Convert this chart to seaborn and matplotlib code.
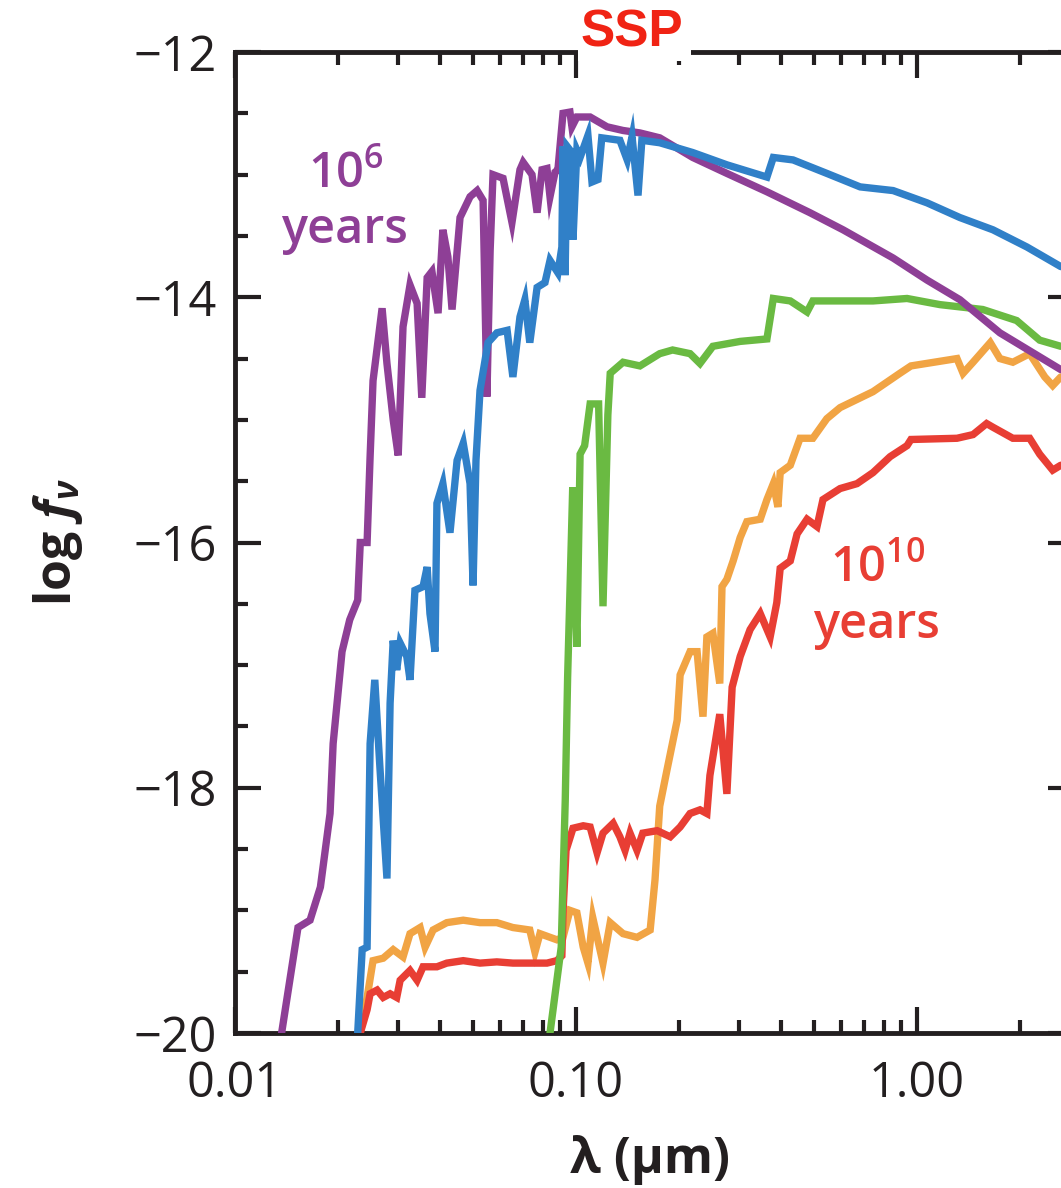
import numpy as np
import pandas as pd
import matplotlib
matplotlib.use("Agg")
import matplotlib.pyplot as plt
import seaborn as sns
from matplotlib.ticker import LogLocator, MultipleLocator, NullFormatter, FixedLocator
from matplotlib.patches import Rectangle

# ---------------- data (wavelength in micron, log f_nu) ----------------
sed_1e6 = np.array([
    [0.0137, -20.0], [0.0153, -19.14], [0.0166, -19.08], [0.0178, -18.81], [0.0190, -18.21],
    [0.0194, -17.64], [0.0206, -16.89], [0.0217, -16.63], [0.0229, -16.47], [0.0233, -16.00],
    [0.0244, -16.00], [0.0249, -15.30], [0.0254, -14.68], [0.0270, -14.09], [0.0279, -14.54],
    [0.0291, -15.00], [0.0301, -15.29], [0.0311, -14.24], [0.0326, -13.90], [0.0342, -14.05],
    [0.0353, -14.82], [0.0366, -13.84], [0.0378, -13.79], [0.0394, -14.13], [0.0407, -13.45],
    [0.0421, -13.67], [0.0433, -14.10], [0.0457, -13.35], [0.0489, -13.18], [0.0513, -13.13],
    [0.0534, -13.21], [0.0548, -14.81], [0.0560, -13.62], [0.0571, -13.00], [0.0611, -13.03],
    [0.0649, -13.39], [0.0685, -12.96], [0.0700, -12.90], [0.0743, -13.00], [0.0769, -13.31],
    [0.0795, -12.96], [0.0822, -12.95], [0.0839, -13.18], [0.0868, -12.98], [0.0885, -12.96],
    [0.0916, -12.50], [0.0960, -12.49], [0.0973, -12.61], [0.1006, -12.53], [0.110, -12.53],
    [0.1233, -12.61], [0.1374, -12.64], [0.154, -12.66], [0.176, -12.70], [0.220, -12.86],
    [0.277, -12.99], [0.363, -13.14], [0.485, -13.31], [0.607, -13.45], [0.851, -13.68],
    [1.07, -13.86], [1.336, -14.02], [1.75, -14.29], [2.64, -14.59],
])

sed_blue = np.array([
    [0.0229, -20.0], [0.0236, -19.32], [0.0244, -19.30], [0.0249, -17.64], [0.0257, -17.12],
    [0.0266, -17.83], [0.0279, -18.74], [0.0285, -17.31], [0.0291, -16.80], [0.0298, -17.04],
    [0.0305, -16.82], [0.0319, -16.93], [0.0326, -17.12], [0.0337, -16.39], [0.0356, -16.36],
    [0.0366, -16.20], [0.0373, -16.58], [0.0386, -16.89], [0.0391, -15.68], [0.0407, -15.52],
    [0.0427, -15.92], [0.0448, -15.33], [0.0467, -15.19], [0.0489, -15.52], [0.0499, -16.35],
    [0.0509, -15.33], [0.0523, -14.76], [0.0552, -14.37], [0.0586, -14.29], [0.0628, -14.27],
    [0.0653, -14.65], [0.0685, -14.16], [0.0708, -14.02], [0.0732, -14.37], [0.0769, -13.92],
    [0.0811, -13.88], [0.0839, -13.70], [0.0885, -13.80], [0.0909, -13.59], [0.0916, -12.77],
    [0.0929, -13.82], [0.0942, -12.77], [0.0960, -12.80], [0.0980, -13.53], [0.1006, -12.80],
    [0.1028, -12.86], [0.1084, -12.68], [0.1114, -13.06], [0.1160, -13.04], [0.1190, -12.70],
    [0.1345, -12.72], [0.1413, -12.88], [0.1460, -12.69], [0.1520, -13.17], [0.1560, -12.72],
    [0.176, -12.74], [0.220, -12.82], [0.277, -12.92], [0.363, -13.02], [0.379, -12.86],
    [0.433, -12.88], [0.544, -12.99], [0.681, -13.10], [0.851, -13.13], [1.07, -13.23],
    [1.336, -13.35], [1.67, -13.45], [2.10, -13.59], [2.64, -13.75],
])

sed_green = np.array([
    [0.0839, -20.0], [0.0905, -19.30], [0.0930, -18.10], [0.0945, -17.10], [0.0960, -16.40],
    [0.0978, -15.55], [0.1006, -16.85], [0.1028, -15.28], [0.1060, -15.21], [0.1100, -14.87],
    [0.1165, -14.87], [0.1200, -16.52], [0.1240, -14.96], [0.1260, -14.62], [0.1374, -14.53],
    [0.154, -14.56], [0.176, -14.46], [0.192, -14.43], [0.216, -14.46], [0.231, -14.54],
    [0.252, -14.40], [0.303, -14.36], [0.363, -14.34], [0.379, -14.01], [0.425, -14.03],
    [0.476, -14.12], [0.495, -14.03], [0.743, -14.03], [0.935, -14.01], [1.167, -14.06],
    [1.56, -14.10], [1.96, -14.19], [2.29, -14.35], [2.64, -14.40],
])

sed_orange = np.array([
    [0.0233, -20.0], [0.0244, -19.71], [0.0254, -19.41], [0.0272, -19.39], [0.0291, -19.32],
    [0.0311, -19.38], [0.0326, -19.19], [0.0349, -19.14], [0.0361, -19.30], [0.0381, -19.16],
    [0.0418, -19.10], [0.0467, -19.08], [0.0523, -19.10], [0.0586, -19.10], [0.0653, -19.14],
    [0.0732, -19.16], [0.0758, -19.34], [0.0784, -19.19], [0.0879, -19.24], [0.0916, -19.22],
    [0.0960, -19.00], [0.1006, -19.02], [0.1050, -19.30], [0.1084, -19.43], [0.1120, -19.06],
    [0.1200, -19.43], [0.1260, -19.10], [0.1374, -19.19], [0.151, -19.22], [0.165, -19.16],
    [0.1705, -18.75], [0.176, -18.15], [0.185, -17.85], [0.198, -17.45], [0.202, -17.08],
    [0.216, -16.89], [0.2265, -16.89], [0.2357, -17.42], [0.242, -16.77], [0.252, -16.74],
    [0.264, -17.15], [0.268, -16.36], [0.277, -16.30], [0.289, -16.15], [0.303, -15.96],
    [0.317, -15.83], [0.347, -15.81], [0.363, -15.65], [0.379, -15.52], [0.391, -15.71],
    [0.397, -15.43], [0.425, -15.37], [0.454, -15.15], [0.495, -15.15], [0.544, -14.99],
    [0.595, -14.90], [0.743, -14.77], [0.891, -14.62], [0.960, -14.56], [1.31, -14.50],
    [1.365, -14.62], [1.46, -14.53], [1.64, -14.37], [1.75, -14.50], [1.91, -14.53],
    [2.14, -14.46], [2.37, -14.65], [2.50, -14.72], [2.64, -14.65],
])

sed_1e10 = np.array([
    [0.0233, -20.0], [0.0244, -19.81], [0.0249, -19.68], [0.0261, -19.65], [0.0272, -19.71],
    [0.0285, -19.68], [0.0298, -19.71], [0.0305, -19.57], [0.0326, -19.49], [0.0342, -19.57],
    [0.0356, -19.46], [0.0391, -19.46], [0.0418, -19.43], [0.0467, -19.41], [0.0523, -19.43],
    [0.0586, -19.42], [0.0653, -19.43], [0.0732, -19.43], [0.0822, -19.43], [0.0879, -19.41],
    [0.0909, -19.37], [0.0916, -19.02], [0.0935, -18.51], [0.0980, -18.33], [0.1050, -18.31],
    [0.1100, -18.32], [0.1153, -18.53], [0.1200, -18.37], [0.1285, -18.29], [0.1345, -18.40],
    [0.1393, -18.51], [0.1440, -18.37], [0.1510, -18.51], [0.1570, -18.37], [0.173, -18.35],
    [0.189, -18.40], [0.202, -18.32], [0.216, -18.21], [0.231, -18.18], [0.242, -18.21],
    [0.247, -17.90], [0.264, -17.40], [0.277, -18.05], [0.287, -17.18], [0.303, -16.93],
    [0.324, -16.71], [0.347, -16.58], [0.371, -16.77], [0.388, -16.49], [0.397, -16.21],
    [0.425, -16.15], [0.445, -15.93], [0.476, -15.81], [0.509, -15.87], [0.530, -15.65],
    [0.595, -15.56], [0.667, -15.52], [0.743, -15.43], [0.834, -15.30], [0.935, -15.21],
    [0.960, -15.16], [1.31, -15.15], [1.46, -15.12], [1.60, -15.03], [1.67, -15.06],
    [1.91, -15.15], [2.14, -15.15], [2.29, -15.28], [2.50, -15.41], [2.64, -15.37],
])

x_major = [0.01, 0.1, 1.0]
x_major_labels = ["0.01", "0.10", "1.00"]
y_major = [-20, -18, -16, -14, -12]
y_major_labels = ["\u221220", "\u221218", "\u221216", "\u221214", "\u221212"]

# ---------------- style ----------------
sns.set_style("ticks")
plt.rcParams["font.family"] = ["Open Sans", "DejaVu Sans"]
plt.rcParams["mathtext.fontset"] = "custom"
plt.rcParams["mathtext.rm"] = "Open Sans:semibold"
plt.rcParams["mathtext.it"] = "Open Sans:italic:bold"
plt.rcParams["mathtext.bf"] = "Open Sans:bold"

INK = "#231f20"
C_PURPLE = "#8E3F96"
C_BLUE = "#3080C8"
C_GREEN = "#6ABA42"
C_ORANGE = "#F1A444"
C_RED = "#E83E34"

W, H = 1061, 1188
L, R, T, B = 235, 1074, 52, 1033
fig = plt.figure(figsize=(W / 100, H / 100), dpi=100)
ax = fig.add_axes([L / W, 1 - B / H, (R - L) / W, (B - T) / H])

series = [
    (sed_orange, C_ORANGE, 2),
    (sed_1e10, C_RED, 3),
    (sed_green, C_GREEN, 4),
    (sed_1e6, C_PURPLE, 5),
    (sed_blue, C_BLUE, 6),
]
for arr, col, z in series:
    df = pd.DataFrame({"lam": arr[:, 0], "logf": arr[:, 1]})
    sns.lineplot(data=df, x="lam", y="logf", ax=ax, color=col, linewidth=5.3,
                 sort=False, estimator=None, zorder=z, solid_joinstyle="miter")

ax.set_xscale("log")
xmax = 10 ** (-2 + (R - L) / 341.0)
ax.set_xlim(0.01, xmax)
ax.set_ylim(-20, -12)

ax.xaxis.set_major_locator(FixedLocator(x_major))
ax.set_xticklabels(x_major_labels)
ax.xaxis.set_minor_locator(LogLocator(base=10, subs=np.arange(2, 10)))
ax.xaxis.set_minor_formatter(NullFormatter())
ax.yaxis.set_major_locator(FixedLocator(y_major))
ax.set_yticklabels(y_major_labels)
ax.yaxis.set_minor_locator(MultipleLocator(0.5))

ax.tick_params(which="both", direction="in", top=True, right=True, color=INK,
               width=3.0, labelcolor=INK, labelsize=35)
ax.tick_params(which="major", length=19)
ax.tick_params(which="minor", length=9.5)
ax.tick_params(axis="x", which="major", pad=19)
ax.tick_params(axis="y", which="major", pad=13)
for sp in ax.spines.values():
    sp.set_linewidth(3.5)
    sp.set_color(INK)

ax.set_xlabel("\u03bb (\u03bcm)", fontsize=36, fontweight="bold", color=INK, va="center")
ax.xaxis.set_label_coords(0.4946, -0.129)
ax.set_ylabel(r"log $f_\nu$", fontsize=36, fontweight="bold", color=INK, va="center")
ax.yaxis.set_label_coords(-0.211, 0.5)

# annotations
ax.text(0.1323, 0.861, r"$10^6$", transform=ax.transAxes, color=C_PURPLE,
        fontsize=35, ha="center", va="baseline")
ax.text(0.130, 0.805, "years", transform=ax.transAxes, color=C_PURPLE,
        fontsize=35, fontweight="semibold", ha="center", va="baseline")
ax.text(0.766, 0.460, r"$10^{10}$", transform=ax.transAxes, color=C_RED,
        fontsize=35, ha="center", va="baseline")
ax.text(0.765, 0.403, "years", transform=ax.transAxes, color=C_RED,
        fontsize=35, fontweight="semibold", ha="center", va="baseline")

# title box "SSP" breaking the top spine
fig.patches.append(Rectangle((578 / W, 1 - 61 / H), 113 / W, 61 / H,
                             transform=fig.transFigure, facecolor="white",
                             edgecolor="none", zorder=5))
fig.text(632 / W, 1 - 33 / H, "SSP", color="#F02314", fontsize=37,
         fontweight="bold", family=["Liberation Sans", "DejaVu Sans"],
         ha="center", va="center", zorder=6)

fig.savefig("out.png", dpi=100)
